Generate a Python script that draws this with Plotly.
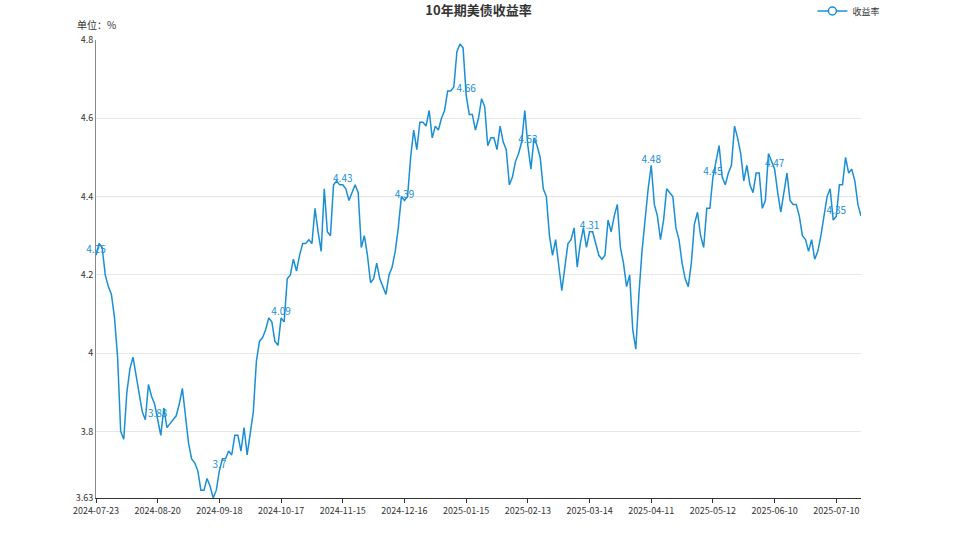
import pandas as pd
import plotly.graph_objects as go

# ---- data -------------------------------------------------------------
START_DATE = "2024-07-23"
END_DATE = "2025-07-22"
HOLIDAYS = ["2024-09-02", "2024-10-14", "2024-11-11", "2024-11-28", "2024-12-25",
            "2025-01-01", "2025-01-20", "2025-02-17", "2025-04-18", "2025-05-26",
            "2025-06-19", "2025-07-04"]

y_2024_07 = [4.25, 4.28, 4.27, 4.20, 4.17, 4.15, 4.09]
y_2024_08 = [3.99, 3.80, 3.78, 3.90, 3.96, 3.99, 3.94, 3.90, 3.85, 3.83, 3.92, 3.89,
             3.87, 3.83, 3.79, 3.86, 3.81, 3.82, 3.83, 3.84, 3.87, 3.91]
y_2024_09 = [3.84, 3.77, 3.73, 3.72, 3.70, 3.65, 3.65, 3.68, 3.66, 3.63, 3.65, 3.70,
             3.73, 3.73, 3.75, 3.74, 3.79, 3.79, 3.75, 3.81]
y_2024_10 = [3.74, 3.79, 3.85, 3.98, 4.03, 4.04, 4.06, 4.09, 4.08, 4.03, 4.02, 4.09,
             4.08, 4.19, 4.20, 4.24, 4.21, 4.25, 4.28, 4.28, 4.29, 4.28]
y_2024_11 = [4.37, 4.31, 4.26, 4.42, 4.31, 4.30, 4.43, 4.44, 4.43, 4.43, 4.42, 4.39,
             4.41, 4.43, 4.41, 4.27, 4.30, 4.25, 4.18]
y_2024_12 = [4.19, 4.23, 4.19, 4.17, 4.15, 4.20, 4.22, 4.26, 4.32, 4.40, 4.39, 4.40,
             4.50, 4.57, 4.52, 4.59, 4.59, 4.58, 4.62, 4.55, 4.58]
y_2025_01 = [4.57, 4.60, 4.62, 4.67, 4.67, 4.68, 4.77, 4.79, 4.78, 4.66, 4.61, 4.61,
             4.57, 4.60, 4.65, 4.63, 4.53, 4.55, 4.55, 4.52, 4.58]
y_2025_02 = [4.54, 4.52, 4.43, 4.45, 4.49, 4.51, 4.54, 4.62, 4.53, 4.47, 4.55, 4.53,
             4.50, 4.42, 4.40, 4.30, 4.25, 4.29, 4.22]
y_2025_03 = [4.16, 4.22, 4.28, 4.29, 4.32, 4.22, 4.28, 4.32, 4.27, 4.31, 4.31, 4.28,
             4.25, 4.24, 4.25, 4.34, 4.31, 4.35, 4.38, 4.27, 4.23]
y_2025_04 = [4.17, 4.20, 4.06, 4.01, 4.15, 4.26, 4.34, 4.42, 4.48, 4.38, 4.35, 4.29,
             4.34, 4.42, 4.41, 4.40, 4.32, 4.29, 4.23, 4.19, 4.17]
y_2025_05 = [4.23, 4.33, 4.36, 4.30, 4.27, 4.37, 4.37, 4.45, 4.49, 4.53, 4.45, 4.43,
             4.46, 4.48, 4.58, 4.55, 4.51, 4.44, 4.48, 4.43, 4.41]
y_2025_06 = [4.46, 4.46, 4.37, 4.39, 4.51, 4.49, 4.47, 4.41, 4.36, 4.41, 4.46, 4.39,
             4.38, 4.38, 4.35, 4.30, 4.29, 4.26, 4.29, 4.24]
y_2025_07 = [4.26, 4.30, 4.35, 4.40, 4.42, 4.34, 4.35, 4.43, 4.43, 4.50, 4.46, 4.47,
             4.44, 4.38, 4.35]

y_tick_vals = [3.63, 3.8, 4.0, 4.2, 4.4, 4.6, 4.8]
y_tick_text = ["3.63", "3.8", "4", "4.2", "4.4", "4.6", "4.8"]
REF_LINE = 4.4
LABEL_STEP = 20

# ---- build ------------------------------------------------------------
hol = set(pd.to_datetime(HOLIDAYS))
dates = [d.strftime("%Y-%m-%d") for d in pd.bdate_range(START_DATE, END_DATE) if d not in hol]
values = (y_2024_07 + y_2024_08 + y_2024_09 + y_2024_10 + y_2024_11 + y_2024_12 +
          y_2025_01 + y_2025_02 + y_2025_03 + y_2025_04 + y_2025_05 + y_2025_06 + y_2025_07)
n = min(len(dates), len(values))
dates, values = dates[:n], values[:n]

label_idx = list(range(0, n, LABEL_STEP))
label_x = [dates[i] for i in label_idx]
label_y = [values[i] for i in label_idx]
label_t = [f"{values[i]:g}" for i in label_idx]

BLUE = "#1a8fd4"
FONT = "Noto Sans CJK SC, Microsoft YaHei, sans-serif"

fig = go.Figure()
fig.add_trace(go.Scatter(x=dates, y=values, mode="lines", name="收益率",
                         line=dict(color=BLUE, width=1.5), showlegend=False,
                         hoverinfo="x+y"))
fig.add_trace(go.Scatter(x=label_x, y=label_y, mode="text", text=label_t,
                         textposition="top center", cliponaxis=False,
                         textfont=dict(color=BLUE, size=10, family=FONT),
                         showlegend=False, hoverinfo="skip"))
# legend entry (line with hollow circle)
fig.add_trace(go.Scatter(x=[None], y=[None], mode="lines+markers", name="收益率",
                         line=dict(color=BLUE, width=1.5),
                         marker=dict(symbol="circle", size=8, color="white",
                                     line=dict(color=BLUE, width=1.5))))

fig.add_shape(type="line", xref="paper", x0=0, x1=1, yref="y", y0=REF_LINE, y1=REF_LINE,
              line=dict(color="#c4c4c4", width=1), layer="below")

fig.update_layout(
    width=958, height=539,
    margin=dict(l=96, r=97, t=40, b=41, autoexpand=False),
    paper_bgcolor="white", plot_bgcolor="white",
    font=dict(family=FONT, size=9, color="#333"),
    title=dict(text="<b>10年期美债收益率</b>", x=0.5, xref="paper", xanchor="center",
               y=0.981, yref="container", yanchor="middle",
               font=dict(size=13, color="#333", family=FONT)),
    legend=dict(xref="container", yref="container", x=0.848, xanchor="left",
                y=0.9796, yanchor="middle", orientation="h",
                font=dict(size=9, color="#333", family=FONT), itemwidth=30,
                bgcolor="rgba(0,0,0,0)"),
    xaxis=dict(type="category", range=[0, n - 1], showgrid=False, automargin=False,
               tickmode="array", tickvals=[dates[i] for i in label_idx],
               ticktext=[dates[i] for i in label_idx], tickangle=0,
               showline=True, linecolor="#333", linewidth=1,
               ticks="outside", ticklen=4, tickcolor="#333",
               tickfont=dict(size=9, color="#333"), zeroline=False),
    yaxis=dict(range=[y_tick_vals[0], y_tick_vals[-1]], tickmode="array",
               tickvals=y_tick_vals, ticktext=y_tick_text, automargin=False,
               showgrid=True, gridcolor="#e6e6e6", gridwidth=1,
               showline=True, linecolor="#888", linewidth=1,
               ticks="", tickfont=dict(size=9, color="#333"), zeroline=False),
    annotations=[dict(text="单位：%", xref="paper", yref="paper", x=-0.027, y=1.013,
                      xanchor="left", yanchor="bottom", showarrow=False,
                      font=dict(size=10, color="#333", family=FONT))],
    showlegend=True,
)

fig.write_html("out.html", config={"displayModeBar": False},
               post_script="document.body.style.margin='0';document.body.style.overflow='hidden';")
